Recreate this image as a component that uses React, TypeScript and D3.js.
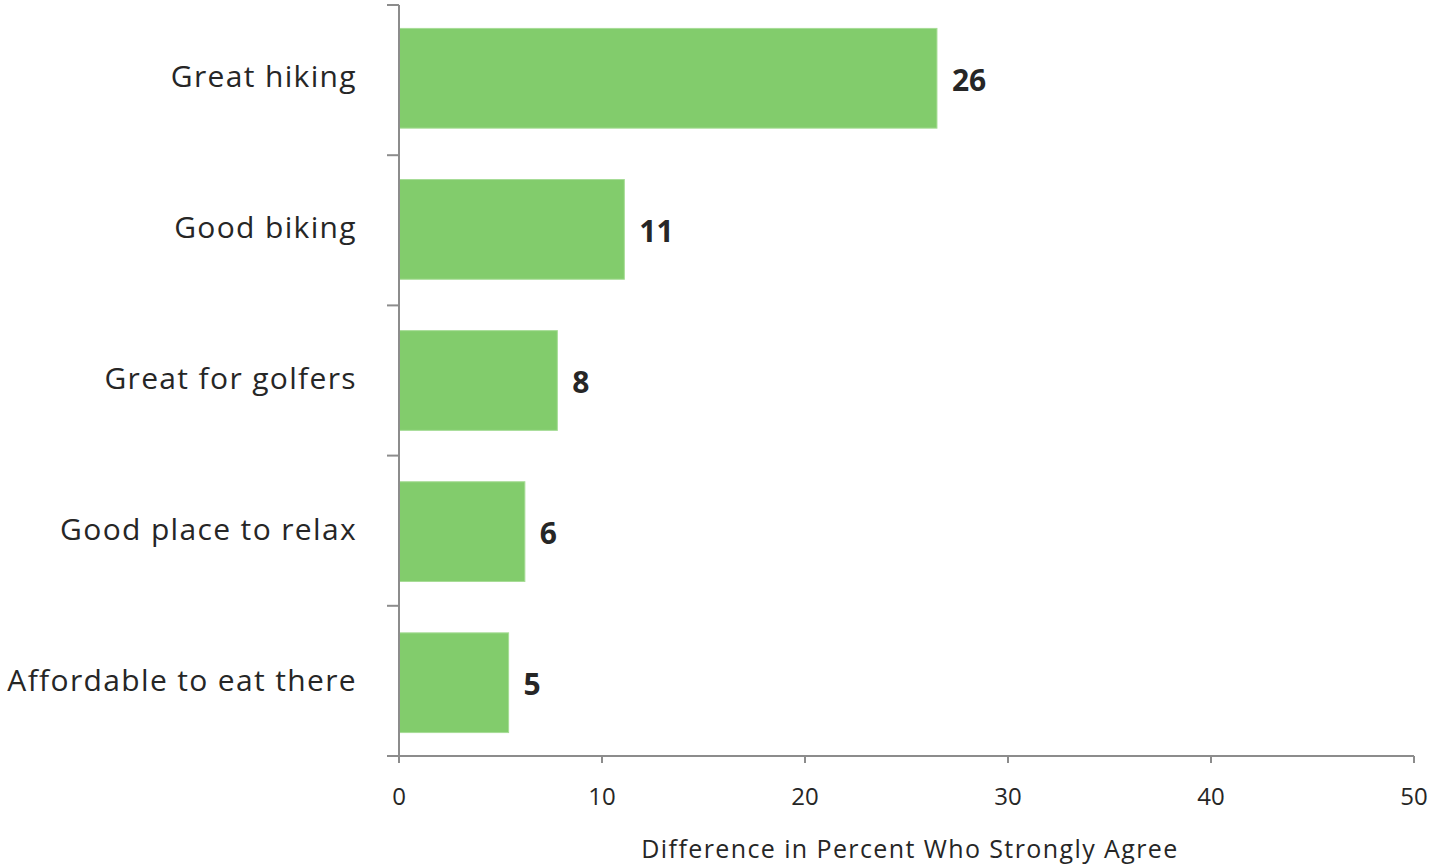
import React from "react";
import * as d3 from "d3";

const categories = ["Great hiking", "Good biking", "Great for golfers", "Good place to relax", "Affordable to eat there"];
const values = [26.5, 11.1, 7.8, 6.2, 5.4];
const valueLabels = ["26", "11", "8", "6", "5"];
const xTicks = [0, 10, 20, 30, 40, 50];
const xTitle = "Difference in Percent Who Strongly Agree";

export default function App() {
  const W = 1432, H = 865;
  const left = 399, right = 1414, top = 5, bottom = 756;
  const x = d3.scaleLinear().domain([0, 50]).range([left, right]);
  const y = d3.scaleBand().domain(categories).range([top, bottom]).paddingInner(0.34).paddingOuter(0.155);
  const step = (bottom - top) / categories.length;
  const font = "'Open Sans', sans-serif";
  const axisColor = "#8c8c8c";
  return (
    <svg width={W} height={H} style={{ position: "absolute", left: 0, top: 0 }} fontFamily={font}>
      <rect width={W} height={H} fill="#fff" />
      {categories.map((c, i) => (
        <rect key={c} x={x(0)} y={y(c)!} width={x(values[i]) - x(0)} height={y.bandwidth()}
          fill="#82cc6c" stroke="#a6dc96" strokeWidth={1} />
      ))}
      {/* y axis */}
      <line x1={left} x2={left} y1={top} y2={bottom + 7} stroke={axisColor} strokeWidth={2} />
      {d3.range(categories.length + 1).map(i => (
        <line key={i} x1={left - 12} x2={left} y1={top + i * step} y2={top + i * step} stroke={axisColor} strokeWidth={2} />
      ))}
      {/* x axis */}
      <line x1={left - 12} x2={right} y1={bottom} y2={bottom} stroke={axisColor} strokeWidth={2} />
      {xTicks.map(t => (
        <g key={t}>
          <line x1={x(t)} x2={x(t)} y1={bottom} y2={bottom + 7} stroke={axisColor} strokeWidth={2} />
          <text x={x(t)} y={805} textAnchor="middle" fontSize={24} fill="#262626">{t}</text>
        </g>
      ))}
      <text x={910} y={858} textAnchor="middle" fontSize={25} letterSpacing={1.4} fill="#262626">{xTitle}</text>
      {categories.map((c, i) => (
        <text key={c} x={357} y={y(c)! + y.bandwidth() / 2 - 2} dy="0.35em" textAnchor="end" fontSize={30} letterSpacing={1.35} fill="#262626">{c}</text>
      ))}
      {categories.map((c, i) => (
        <text key={c} x={x(values[i]) + 15} y={y(c)! + y.bandwidth() / 2 + 2} dy="0.35em" fontSize={30} fontWeight="bold" fill="#262626">{valueLabels[i]}</text>
      ))}
    </svg>
  );
}
